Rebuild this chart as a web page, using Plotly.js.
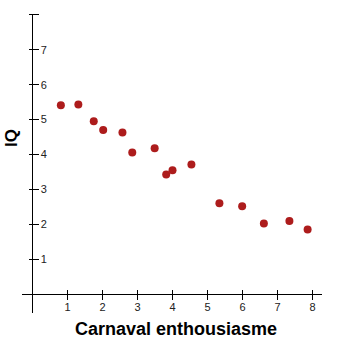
<!DOCTYPE html>
<html>
<head>
<meta charset="utf-8">
<script src="https://cdn.plot.ly/plotly-3.0.1.min.js"></script>
<style>html,body{margin:0;padding:0;background:#fff;}#chart{width:350px;height:343px;}</style>
</head>
<body>
<div id="chart"></div>
<script>
var enthousiasme = [0.81, 1.31, 1.75, 2.02, 2.57, 2.85, 3.49, 3.82, 4.00, 4.54, 5.34, 5.99, 6.61, 7.34, 7.86];
var iq = [5.41, 5.43, 4.95, 4.70, 4.63, 4.06, 4.18, 3.43, 3.55, 3.72, 2.61, 2.52, 2.03, 2.10, 1.86];
var xTicks = [1, 2, 3, 4, 5, 6, 7, 8];
var xTickText = ['1', '2', '3', '4', '5', '6', '7', '8'];
var yTicks = [1, 2, 3, 4, 5, 6, 7, 8];
var yTickText = ['1', '2', '3', '4', '5', '6', '7', ''];
var xTitle = 'Carnaval enthousiasme';
var yTitle = 'IQ';

var plotW = 300, plotH = 299, half = 5;
var xRange = [-0.3, 8.271];
var yRange = [-0.529, 8.02];
// free axes placed half a tick above / left of the zero lines so the ticks cross them
var xPos = (0 - yRange[0]) / (yRange[1] - yRange[0]) + half / plotH;
var yPos = (0 - xRange[0]) / (xRange[1] - xRange[0]) - half / plotW;
var tickFont = {family: 'Liberation Sans, Arial, sans-serif', size: 11, color: '#222'};

var data = [
  {x: enthousiasme, y: iq, type: 'scatter', mode: 'markers',
   marker: {color: '#ad1c1c', size: 8}, hoverinfo: 'x+y'}
];

var common = {showgrid: false, showline: false, zeroline: true, zerolinecolor: '#000', zerolinewidth: 1,
  tickcolor: '#000', tickwidth: 1, ticklen: 2 * half, ticks: 'outside', tickfont: tickFont, fixedrange: true};

var layout = {
  width: 350, height: 343,
  margin: {l: 22, r: 28, t: 14, b: 30},
  paper_bgcolor: '#fff', plot_bgcolor: '#fff',
  showlegend: false,
  xaxis: Object.assign({}, common, {range: xRange, anchor: 'free', position: xPos, side: 'bottom',
    tickvals: xTicks, ticktext: xTickText, ticklabelstandoff: -3}),
  yaxis: Object.assign({}, common, {range: yRange, anchor: 'free', position: yPos, side: 'right',
    tickvals: yTicks, ticktext: yTickText}),
  annotations: [
    {text: xTitle, xref: 'paper', yref: 'paper', x: (175.5 - 22) / 300, y: (313 - 329) / 299,
     xanchor: 'center', yanchor: 'middle', showarrow: false,
     font: {family: 'Liberation Sans, Arial, sans-serif', size: 18, color: '#000', weight: 'bold'}},
    {text: yTitle, xref: 'paper', yref: 'paper', x: (11 - 22) / 300, y: (313 - 138) / 299,
     xanchor: 'center', yanchor: 'middle', showarrow: false, textangle: -90,
     font: {family: 'Liberation Sans, Arial, sans-serif', size: 17, color: '#000', weight: 'bold'}}
  ]
};

Plotly.newPlot('chart', data, layout, {displayModeBar: false, staticPlot: true});
</script>
</body>
</html>
